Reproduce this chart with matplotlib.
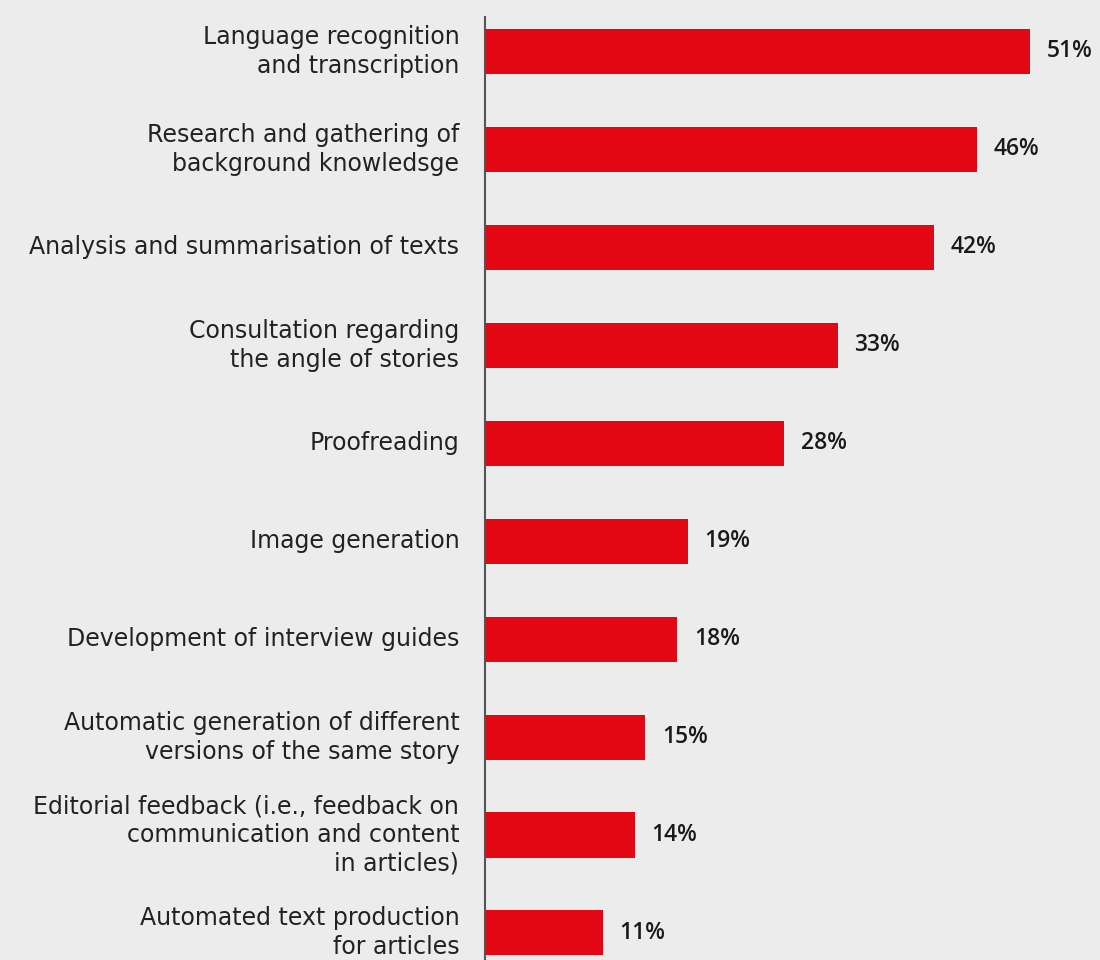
import matplotlib
matplotlib.use("Agg")
import matplotlib.pyplot as plt

categories = [
    "Language recognition\nand transcription",
    "Research and gathering of\nbackground knowledsge",
    "Analysis and summarisation of texts",
    "Consultation regarding\nthe angle of stories",
    "Proofreading",
    "Image generation",
    "Development of interview guides",
    "Automatic generation of different\nversions of the same story",
    "Editorial feedback (i.e., feedback on\ncommunication and content\nin articles)",
    "Automated text production\nfor articles",
]
values = [51, 46, 42, 33, 28, 19, 18, 15, 14, 11]
value_labels = [f"{v}%" for v in values]

bg = "#ececec"
red = "#e30613"
txt = "#1a1a1a"

fig = plt.figure(figsize=(11, 9.6), dpi=100, facecolor=bg)
ax = fig.add_axes([485/1100, 0, 1 - 485/1100, 1 - 17/960], facecolor=bg)

y = list(range(len(categories)))
ax.barh(y, values, height=0.46, color=red, zorder=2)
ax.set_ylim(9.276, -0.352)
ax.set_xlim(0, 615/10.69)

for yi, v, lab in zip(y, values, value_labels):
    ax.text(v + 1.55, yi, lab, va="center", ha="left", fontsize=16.5,
            fontfamily="Open Sans", fontweight="semibold", color=txt)

for yi, c in zip(y, categories):
    ax.text(-2.4, yi, c, va="center", ha="right", fontsize=17,
            fontfamily="DejaVu Sans", color="#222222", linespacing=1.26,
            transform=ax.transData, clip_on=False)

for s in ["top", "right", "bottom"]:
    ax.spines[s].set_visible(False)
ax.spines["left"].set_color("#555555")
ax.spines["left"].set_linewidth(1.5)
ax.set_xticks([])
ax.set_yticks([])

fig.savefig("out.png", dpi=100, facecolor=bg)
